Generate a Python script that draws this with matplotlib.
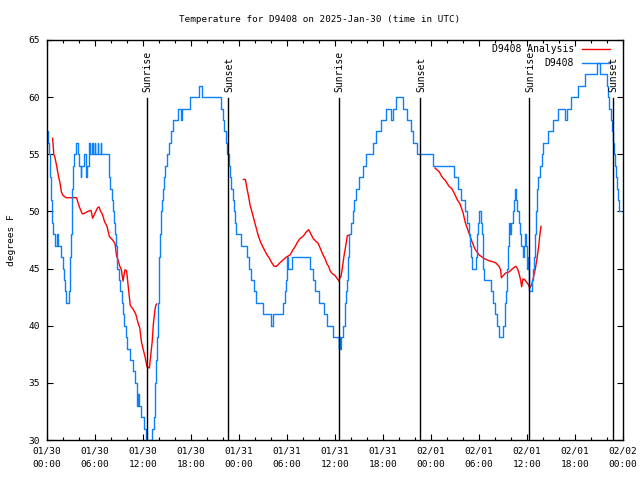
import numpy as np
import matplotlib
matplotlib.use("Agg")
import matplotlib.pyplot as plt
from matplotlib.ticker import MultipleLocator, FixedLocator

plt.rcParams['font.family'] = ['DejaVu Sans Mono']

title = "Temperature for D9408 on 2025-Jan-30 (time in UTC)"
ylabel = "degrees F"
xtick_hours = [0, 6, 12, 18, 24, 30, 36, 42, 48, 54, 60, 66, 72]
xtick_labels = ["01/30\n00:00", "01/30\n06:00", "01/30\n12:00", "01/30\n18:00",
                "01/31\n00:00", "01/31\n06:00", "01/31\n12:00", "01/31\n18:00",
                "02/01\n00:00", "02/01\n06:00", "02/01\n12:00", "02/01\n18:00",
                "02/02\n00:00"]
ytick_values = [30, 35, 40, 45, 50, 55, 60, 65]

# Sun events (hours since 01/30 00:00 UTC)
sun_hours = [12.45, 22.67, 36.45, 46.66, 60.3, 70.7]
sun_labels = ["Sunrise", "Sunset", "Sunrise", "Sunset", "Sunrise", "Sunset"]

# Observations D9408 (hours, deg F)
obs_hours = [0.0, 0.17, 0.3, 0.42, 0.55, 0.67, 0.8, 1.0, 1.2, 1.4, 1.8, 1.95, 2.1, 2.25, 2.4, 2.7, 2.8,
             2.87, 2.93, 3.0, 3.08, 3.17, 3.3, 3.42, 3.6, 3.85, 4.05, 4.2, 4.3, 4.6, 4.85, 4.92, 5.05,
             5.2, 5.3, 5.36, 5.65, 5.71, 6.0, 6.06, 6.35, 6.41, 6.7, 6.76, 7.7,
             7.8, 7.9, 8.1, 8.25, 8.35, 8.5, 8.6, 8.7, 8.8, 8.95, 9.1, 9.35, 9.5, 9.62, 9.83, 10.05,
             10.4, 10.75, 11.05, 11.2, 11.3, 11.4, 11.5, 11.8, 12.1, 12.4, 13.15, 13.35, 13.45,
             13.55, 13.65, 13.75, 13.83, 13.9, 13.97, 14.05, 14.12, 14.22, 14.35, 14.5, 14.65,
             14.8, 15.0, 15.2, 15.45, 15.8, 16.4, 16.75, 16.85, 17.9, 19.05, 19.35, 21.75, 21.95,
             22.15, 22.35, 22.55, 22.7, 22.85, 23.0, 23.2, 23.35, 23.5, 23.65, 24.3, 25.0, 25.25,
             25.55, 25.85, 26.15, 27.0, 27.95, 28.2, 29.45, 29.7, 29.9, 30.0, 30.15, 30.6, 32.9,
             33.2, 33.55, 34.0, 34.65, 35.05, 35.75, 36.45, 36.55, 36.65, 36.75, 36.95, 37.2,
             37.3, 37.4, 37.5, 37.6, 37.7, 37.8, 38.0, 38.2, 38.4, 38.6, 39.0, 39.45, 39.85, 40.7,
             41.1, 41.75, 42.4, 43.0, 43.2, 43.6, 44.5, 45.0, 45.5, 45.8, 46.3, 48.3, 50.85, 51.35,
             51.8, 52.2, 52.45, 52.7, 52.85, 52.95, 53.1, 53.6, 53.7, 53.8, 53.9, 54.05, 54.2,
             54.35, 54.45, 54.55, 54.65, 55.5, 55.7, 55.95, 56.2, 56.55, 57.0, 57.2, 57.3, 57.4,
             57.5, 57.6, 57.7, 57.85, 58.05, 58.2, 58.4, 58.55, 58.65, 58.8, 58.95, 59.1, 59.3,
             59.45, 59.6, 59.7, 59.85, 60.0, 60.1, 60.2, 60.3, 60.65, 60.75, 60.85, 60.95, 61.0,
             61.08, 61.15, 61.22, 61.35, 61.6, 61.85, 62.05, 62.6, 63.25, 63.9, 64.7, 64.95, 65.55,
             66.35, 67.25, 68.75, 69.1, 69.95, 70.15, 70.3, 70.45, 70.6, 70.7, 70.85, 70.95, 71.1,
             71.25, 71.4, 71.55, 71.8]
obs_temps = [57, 56, 55, 53, 51, 49, 48, 47, 48, 47, 46, 45, 44, 43, 42, 42, 43,
             44, 46, 48, 50, 52, 54, 55, 56, 55, 54, 53, 54, 55, 54, 53, 54,
             55, 56, 55, 56, 55, 56, 55, 56, 55, 56, 55, 54,
             53, 52, 51, 50, 49, 48, 47, 46, 45, 44, 43, 42, 41, 40, 39, 38,
             37, 36, 35, 34, 33, 34, 33, 32, 31, 30, 31, 32, 33,
             35, 37, 39, 40, 42, 44, 46, 48, 50, 51, 52, 53,
             54, 55, 56, 57, 58, 59, 58, 59, 60, 61, 60, 59, 58,
             57, 56, 55, 54, 53, 52, 51, 50, 49, 48, 47, 46, 45,
             44, 43, 42, 41, 40, 41, 42, 43, 44, 46, 45, 46, 45,
             44, 43, 42, 41, 40, 39, 38, 39, 38, 39, 40, 41,
             42, 43, 44, 46, 47, 48, 49, 50, 51, 52, 53, 54, 55, 56,
             57, 58, 59, 58, 59, 60, 59, 58, 57, 56, 55, 54, 53, 52,
             51, 50, 49, 48, 47, 46, 45, 46, 47, 48, 49, 50, 49,
             48, 46, 45, 44, 43, 42, 41, 40, 39, 40, 41, 42, 43,
             45, 47, 49, 48, 49, 50, 51, 52, 51, 50, 49, 48, 47,
             46, 47, 48, 47, 45, 46, 44, 43, 44, 45, 46, 47, 48,
             49, 50, 52, 53, 54, 55, 56, 57, 58, 59, 58, 59, 60,
             61, 62, 63, 62, 61, 60, 59, 58, 57, 56, 55, 54, 53,
             52, 51, 50, 50]

# D9408 Analysis (hours, deg F); NaN marks gaps between analysis runs
ana_hours = [0.7, 0.85, 1.0, 1.2, 1.45, 1.6, 1.8, 2.0, 2.4, 3.7, 3.9, 4.1, 4.4, 4.6, 5.1, 5.5, 5.7,
             5.9, 6.3, 6.5, 6.7, 6.9, 7.2, 7.5, 7.8, 8.2, 8.5, 8.7, 8.9, 9.1, 9.3, 9.5, 9.75, 9.95,
             10.2, 10.4, 10.8, 11.1, 11.4, 11.6, 11.8, 12.0, 12.25, 12.5, 12.8, 13.0, 13.15, 13.3,
             13.5, 13.6, 13.7, np.nan,
             24.55, 24.8, 25.0, 25.2, 25.4, 25.6, 25.9, 26.2, 26.4, 26.6, 26.9, 27.2, 27.5, 27.8,
             28.1, 28.4, 28.7, 29.1, 29.5, 29.9, 30.4, 30.7, 31.0, 31.3, 31.6, 32.1, 32.4, 32.7,
             33.0, 33.3, 33.6, 33.9, 34.2, 34.5, 34.8, 35.0, 35.2, 35.4, 35.6, 36.0, 36.3, 36.5,
             36.6, 36.75, 36.95, 37.1, 37.25, 37.45, 37.55, 37.7, np.nan,
             48.5, 49.0, 49.4, 49.8, 50.25, 50.6, 50.9, 51.3, 51.6, 52.0, 52.3, 52.7, 53.1, 53.5,
             54.0, 54.6, 55.2, 55.7, 56.1, 56.5, 56.7, 56.8, 57.3, 57.75, 58.2, 58.6, 58.8, 59.0,
             59.2, 59.33, 59.5, 59.75, 60.17, 60.33, 60.6, 60.85, 61.05, 61.25, 61.45, 61.6, 61.75]
ana_temps = [56.4, 55.0, 54.7, 54.0, 53.0, 52.6, 51.7, 51.4, 51.2, 51.2, 50.7, 50.3, 49.8, 49.8, 50.0,
             50.1, 49.4, 49.7, 50.3, 50.4, 50.0, 49.8, 49.1, 48.7, 47.8, 47.5, 47.2, 46.1, 45.7,
             45.2, 44.9, 43.9, 44.9, 44.8, 43.1, 41.8, 41.4, 41.0, 40.2, 39.8, 38.6, 38.0, 37.3,
             36.4, 36.3, 37.6, 38.6, 40.2, 41.4, 41.8, 41.9, np.nan,
             52.8, 52.8, 52.0, 51.3, 50.5, 50.0, 49.2, 48.4, 47.9, 47.5, 47.0, 46.6, 46.2, 45.9,
             45.5, 45.2, 45.2, 45.5, 45.75, 46.0, 46.2, 46.6, 46.9, 47.3, 47.6, 47.9, 48.2, 48.4,
             48.0, 47.6, 47.4, 47.2, 46.7, 46.2, 45.8, 45.4, 45.2, 44.8, 44.6, 44.4, 44.1, 43.9,
             44.2, 44.3, 45.2, 46.0, 46.6, 47.5, 47.9, 47.9, np.nan,
             53.8, 53.5, 53.0, 52.7, 52.2, 52.0, 51.6, 51.0, 50.7, 49.9, 49.0, 48.2, 47.4, 46.7,
             46.2, 45.9, 45.7, 45.6, 45.5, 45.2, 44.9, 44.2, 44.6, 44.7, 45.0, 45.2, 45.0, 44.6,
             44.0, 43.4, 44.1, 44.0, 43.6, 43.3, 43.6, 44.4, 45.0, 45.9, 46.9, 47.9, 48.7]

blue = '#0a80ff'
red = '#ff0000'

fig = plt.figure(figsize=(6.4, 4.8), dpi=100)
ax = fig.add_axes([47/640, 1 - 440/480, 576/640, 400/480])

ax.plot(ana_hours, ana_temps, color=red, lw=1.0)
ax.plot(obs_hours, obs_temps, color=blue, lw=1.0, drawstyle='steps-post')

for h, lab in zip(sun_hours, sun_labels):
    ax.plot([h, h], [0, 0.855], color='black', lw=1.0, transform=ax.get_xaxis_transform())
    ax.text(h + 0.15, 0.87, lab, rotation=90, ha='center', va='bottom', fontsize=7,
            transform=ax.get_xaxis_transform())

ax.set_xlim(0, 72)
ax.set_ylim(30, 65)
ax.xaxis.set_major_locator(FixedLocator(xtick_hours))
ax.set_xticklabels(xtick_labels, fontsize=6.8, linespacing=1.55)
ax.xaxis.set_minor_locator(MultipleLocator(2))
ax.set_yticks(ytick_values)
ax.set_yticklabels([str(v) for v in ytick_values], fontsize=6.8)
ax.tick_params(which='both', direction='in', top=True, right=True, width=0.8, color='black')
ax.tick_params(which='major', length=4.5, pad=5)
ax.tick_params(which='minor', length=2.5)
for s in ax.spines.values():
    s.set_linewidth(1.0)

# legend (manual, gnuplot style)
ax.text(0.915, 0.9775, "D9408 Analysis", ha='right', va='center', fontsize=7, transform=ax.transAxes)
ax.plot([0.929, 0.977], [0.9775, 0.9775], color=red, lw=1.0, transform=ax.transAxes)
ax.text(0.915, 0.9425, "D9408", ha='right', va='center', fontsize=7, transform=ax.transAxes)
ax.plot([0.929, 0.977], [0.9425, 0.9425], color=blue, lw=1.0, transform=ax.transAxes)

fig.text(0.5, 1 - 19/480, title, ha='center', va='center', fontsize=6.7)
fig.text(12/640, 0.5, ylabel, rotation=90, ha='center', va='center', fontsize=6.8)

fig.savefig('out.png', dpi=100)
